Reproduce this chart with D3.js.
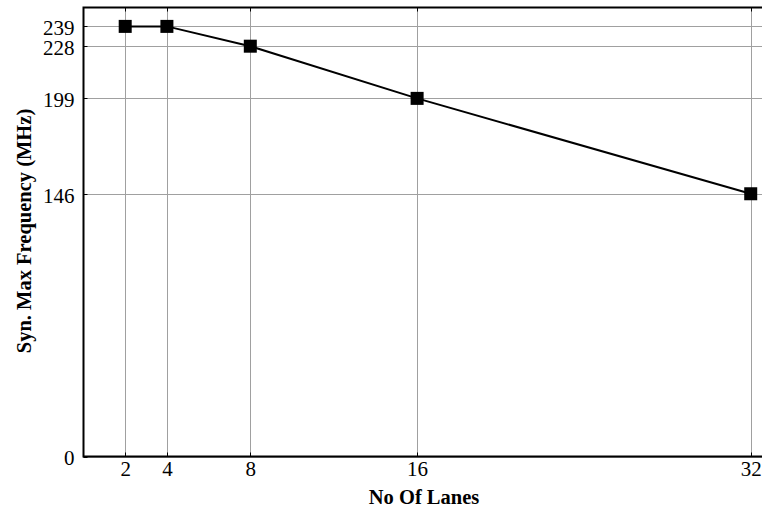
<!DOCTYPE html>
<html>
<head>
<meta charset="utf-8">
<script src="https://cdn.jsdelivr.net/npm/d3@7"></script>
<style>
  body { margin: 0; background: #fff; }
  svg { display: block; }
  .tick text { font-family: "Liberation Serif", "Times New Roman", serif; font-size: 21px; fill: #000; }
  .axisTitle { font-family: "Liberation Serif", "Times New Roman", serif; font-size: 20.5px; font-weight: bold; fill: #000; }
</style>
</head>
<body>
<script>
//chart data
var lanes = [2, 4, 8, 16, 32];
var freq = [239, 239, 228, 199, 146];
var xTicks = [2, 4, 8, 16, 32];
var yTicks = [0, 146, 199, 228, 239];

(function(){
    var width = 762,
        height = 508;

    //plot frame, right side runs off the page
    var left = 83.5, top = 7.5, bottom = 456.5, right = 782;

    var svg = d3.select("body")
        .append("svg")
        .attr("width", width)
        .attr("height", height);

    var x = d3.scaleLinear()
        .domain([0, 33.5])
        .range([left, right]);

    var y = d3.scaleLinear()
        .domain([0, 249.5])
        .range([bottom, top]);

    //grid lines
    svg.selectAll(".vgrid")
        .data(xTicks)
        .enter()
        .append("line")
        .attr("x1", function(d){ return Math.round(x(d)) + 0.5; })
        .attr("x2", function(d){ return Math.round(x(d)) + 0.5; })
        .attr("y1", top)
        .attr("y2", bottom)
        .attr("stroke", "#a0a0a0")
        .attr("stroke-width", 1);

    svg.selectAll(".hgrid")
        .data(yTicks)
        .enter()
        .append("line")
        .attr("x1", left)
        .attr("x2", width)
        .attr("y1", function(d){ return Math.round(y(d)) + 0.5; })
        .attr("y2", function(d){ return Math.round(y(d)) + 0.5; })
        .attr("stroke", "#a0a0a0")
        .attr("stroke-width", 1);

    //frame
    svg.append("path")
        .attr("d", "M" + width + "," + top + "H" + left + "V" + bottom + "H" + width)
        .attr("fill", "none")
        .attr("stroke", "#000")
        .attr("stroke-width", 2);

    //inner ticks on top and bottom
    svg.selectAll(".tTick")
        .data(xTicks)
        .enter()
        .append("path")
        .attr("d", function(d){
            var px = Math.round(x(d)) + 0.5;
            return "M" + px + "," + top + "v4M" + px + "," + bottom + "v-4";
        })
        .attr("stroke", "#000")
        .attr("stroke-width", 1);

    svg.selectAll(".lTick")
        .data(yTicks)
        .enter()
        .append("line")
        .attr("x1", left)
        .attr("x2", left + 4)
        .attr("y1", function(d){ return Math.round(y(d)) + 0.5; })
        .attr("y2", function(d){ return Math.round(y(d)) + 0.5; })
        .attr("stroke", "#000");

    //axes labels via d3 axes, no lines
    var xAxis = svg.append("g")
        .attr("transform", "translate(0," + bottom + ")")
        .call(d3.axisBottom(x).tickValues(xTicks).tickSize(0).tickPadding(5));
    xAxis.select(".domain").remove();
    xAxis.attr("font-family", null).attr("font-size", null);

    var yAxis = svg.append("g")
        .attr("transform", "translate(" + left + ",0)")
        .call(d3.axisLeft(y).tickValues(yTicks).tickSize(0).tickPadding(9));
    yAxis.select(".domain").remove();
    yAxis.attr("font-family", null).attr("font-size", null);
    yAxis.selectAll(".tick text").attr("dy", "0.4em");

    //line
    var line = d3.line()
        .x(function(d, i){ return x(lanes[i]); })
        .y(function(d){ return y(d); });

    svg.append("path")
        .datum(freq)
        .attr("d", line)
        .attr("fill", "none")
        .attr("stroke", "#000")
        .attr("stroke-width", 2);

    //square markers
    var s = 13;
    svg.selectAll(".marker")
        .data(freq)
        .enter()
        .append("rect")
        .attr("x", function(d, i){ return x(lanes[i]) - s / 2; })
        .attr("y", function(d){ return y(d) - s / 2; })
        .attr("width", s)
        .attr("height", s)
        .attr("fill", "#000");

    //axis titles
    svg.append("text")
        .attr("class", "axisTitle")
        .attr("x", 424)
        .attr("y", 504)
        .attr("text-anchor", "middle")
        .text("No Of Lanes");

    svg.append("text")
        .attr("class", "axisTitle")
        .attr("transform", "translate(31," + 231 + ") rotate(-90)")
        .attr("text-anchor", "middle")
        .text("Syn. Max Frequency (MHz)");
})();
</script>
</body>
</html>
